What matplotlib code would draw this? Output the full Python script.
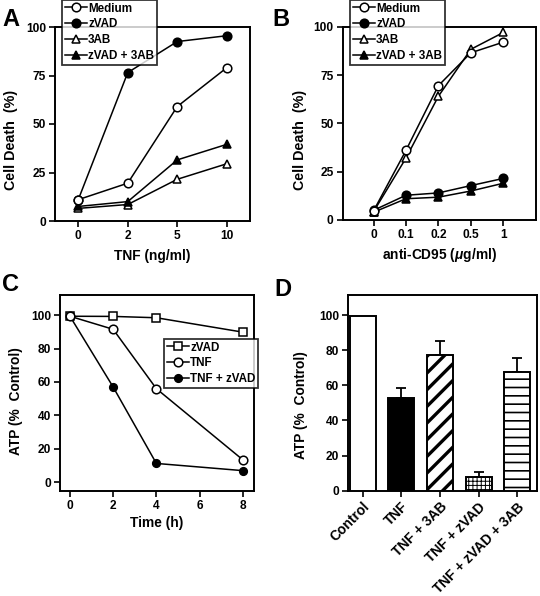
import matplotlib
matplotlib.use("Agg")
import matplotlib.pyplot as plt
import numpy as np

plt.rcParams['font.family'] = ['Liberation Sans', 'DejaVu Sans']
plt.rcParams['font.weight'] = 'bold'
plt.rcParams['axes.labelweight'] = 'bold'
plt.rcParams['mathtext.fontset'] = 'custom'
plt.rcParams['mathtext.it'] = 'Liberation Sans:italic:bold'
plt.rcParams['mathtext.rm'] = 'Liberation Sans:bold'

# ---- Panel A data ----
tnf_doses = ['0', '2', '5', '10']
a_medium = [11, 19.5, 59, 79]
a_zvad = [11, 76.5, 92.5, 95.5]
a_3ab = [6.5, 8.5, 21.5, 29.5]
a_zvad3ab = [7.5, 10, 31.5, 39.5]

# ---- Panel B data ----
cd95_doses = ['0', '0.1', '0.2', '0.5', '1']
b_medium = [4.7, 36, 69.5, 86.5, 92]
b_zvad = [5, 12.8, 14, 17.8, 21.5]
b_3ab = [4.3, 32, 64, 88.3, 97]
b_zvad3ab = [4, 11, 11.8, 15, 19]

# ---- Panel C data ----
c_time = [0, 2, 4, 8]
c_zvad = [99.3, 99.2, 98.4, 89.8]
c_tnf = [99.3, 91.5, 56, 13.5]
c_tnfzvad = [99.3, 57, 11.3, 7]

# ---- Panel D data ----
d_labels = ['Control', 'TNF', 'TNF + 3AB', 'TNF + zVAD', 'TNF + zVAD + 3AB']
d_values = [99.6, 52.8, 77.2, 7.8, 67.3]
d_errors = [0, 5.5, 8.2, 3.0, 8.1]

W, H = 540, 596
fig = plt.figure(figsize=(W / 100, H / 100), dpi=100)


def add_ax(left, top, right, bottom):
    return fig.add_axes([left / W, 1 - bottom / H, (right - left) / W, (bottom - top) / H])


TICKFS = 8.6
LABFS = 9.9
LW = 1.1
SPW = 1.4


def style(ax):
    for s in ax.spines.values():
        s.set_linewidth(SPW)
    ax.tick_params(direction='out', length=4.5, width=1.2, labelsize=TICKFS, pad=2)
    for lab in ax.get_xticklabels() + ax.get_yticklabels():
        lab.set_fontweight('bold')


def line(ax, x, y, marker, filled, ms=6.2, label=None, z=3):
    return ax.plot(x, y, color='black', lw=LW, marker=marker, ms=ms,
                   mfc='black' if filled else 'white', mec='black', mew=1.1,
                   label=label, zorder=z)[0]


def legend(ax, handles, x0, y0, fs=8.4):
    leg = ax.legend(handles=handles, loc='upper left',
                    bbox_to_anchor=(x0 / W, 1 - y0 / H), bbox_transform=fig.transFigure,
                    frameon=True, fancybox=False, borderaxespad=0,
                    handlelength=1.9, handletextpad=0.12, labelspacing=0.33,
                    borderpad=0.22, prop={'weight': 'bold', 'size': fs})
    leg.get_frame().set_edgecolor('black')
    leg.get_frame().set_linewidth(1.3)
    leg.set_zorder(10)
    return leg


# ---------------- Panel A ----------------
axA = add_ax(55, 27, 250, 221)
xa = np.arange(len(tnf_doses))
h2 = line(axA, xa, a_zvad, 'o', True, label='zVAD', z=3)
h4 = line(axA, xa, a_zvad3ab, '^', True, label='zVAD + 3AB', z=4)
h3 = line(axA, xa, a_3ab, '^', False, label='3AB', z=3)
h1 = line(axA, xa, a_medium, 'o', False, label='Medium', z=5)
axA.set_xlim(-0.47, 3.47)
axA.set_ylim(0, 100)
axA.set_xticks(xa)
axA.set_xticklabels(tnf_doses)
axA.set_yticks([0, 25, 50, 75, 100])
axA.set_xlabel('TNF (ng/ml)', fontsize=LABFS, fontweight='bold')
axA.set_ylabel('Cell Death  (%)', fontsize=10.3, fontweight='bold')
axA.yaxis.set_label_coords(-0.19, 0.42)
axA.xaxis.set_label_coords(0.5, -0.145)
style(axA)
legend(axA, [h1, h2, h3, h4], 62, 0)

# ---------------- Panel B ----------------
axB = add_ax(342.7, 26.7, 535.7, 220)
xb = np.arange(len(cd95_doses))
g4 = line(axB, xb, b_zvad3ab, '^', True, label='zVAD + 3AB', z=3)
g2 = line(axB, xb, b_zvad, 'o', True, label='zVAD', z=4)
g3 = line(axB, xb, b_3ab, '^', False, label='3AB', z=3)
g1 = line(axB, xb, b_medium, 'o', False, label='Medium', z=5)
axB.set_xlim(-0.95, 5.0)
axB.set_ylim(0, 100)
axB.set_xticks(xb)
axB.set_xticklabels(cd95_doses)
axB.set_yticks([0, 25, 50, 75, 100])
axB.set_xlabel('anti-CD95 ($\\mu$g/ml)', fontsize=LABFS, fontweight='bold')
axB.set_ylabel('Cell Death  (%)', fontsize=10.3, fontweight='bold')
axB.yaxis.set_label_coords(-0.185, 0.415)
axB.xaxis.set_label_coords(0.5, -0.135)
style(axB)
legend(axB, [g1, g2, g3, g4], 350, 0)

# ---------------- Panel C ----------------
axC = add_ax(60, 295, 254, 490.7)
k1 = line(axC, c_time, c_zvad, 's', False, label='zVAD', z=3)
k3 = line(axC, c_time, c_tnfzvad, 'o', True, ms=5.5, label='TNF + zVAD', z=4)
k2 = line(axC, c_time, c_tnf, 'o', False, label='TNF', z=5)
axC.set_xlim(-0.46, 8.52)
axC.set_ylim(-5, 112)
axC.set_xticks([0, 2, 4, 6, 8])
axC.set_yticks([0, 20, 40, 60, 80, 100])
axC.set_xlabel('Time (h)', fontsize=LABFS, fontweight='bold')
axC.set_ylabel('ATP (%  Control)', fontsize=LABFS, fontweight='bold')
axC.yaxis.set_label_coords(-0.19, 0.458)
axC.xaxis.set_label_coords(0.5, -0.13)
style(axC)
legend(axC, [k1, k2, k3], 164, 339)

# ---------------- Panel D ----------------
axD = add_ax(348.3, 295, 536.7, 490.7)
xd = np.arange(len(d_labels))
faces = ['white', 'black', 'white', 'white', 'white']
hatches = [None, None, '//', '++++', '--']
hlw = [1.0, 1.0, 2.4, 0.7, 1.2]
for i in range(len(d_labels)):
    with plt.rc_context({'hatch.linewidth': hlw[i]}):
        axD.bar(xd[i], d_values[i], width=0.67, color=faces[i], edgecolor='black',
                linewidth=1.4, hatch=hatches[i], zorder=3)
    if d_errors[i] > 0:
        axD.errorbar(xd[i], d_values[i], yerr=[[0], [d_errors[i]]], fmt='none',
                     ecolor='black', elinewidth=1.3, capsize=3.5, capthick=1.3, zorder=2)
axD.set_xlim(-0.37, 4.5)
axD.set_ylim(0, 111.4)
axD.set_xticks(xd)
axD.set_xticklabels(d_labels, rotation=45, ha='right', rotation_mode='anchor')
axD.set_yticks([0, 20, 40, 60, 80, 100])
axD.set_ylabel('ATP (%  Control)', fontsize=LABFS, fontweight='bold')
axD.yaxis.set_label_coords(-0.215, 0.438)
style(axD)
for lab in axD.get_xticklabels():
    lab.set_fontsize(10)

# ---------------- Panel letters ----------------
for letter, x, y in [('A', 2, 26), ('B', 272, 26), ('C', 2, 291), ('D', 274, 296)]:
    fig.text(x / W, 1 - y / H, letter, fontsize=17, fontweight='bold', ha='left', va='baseline')

fig.savefig('out.png', dpi=100)
